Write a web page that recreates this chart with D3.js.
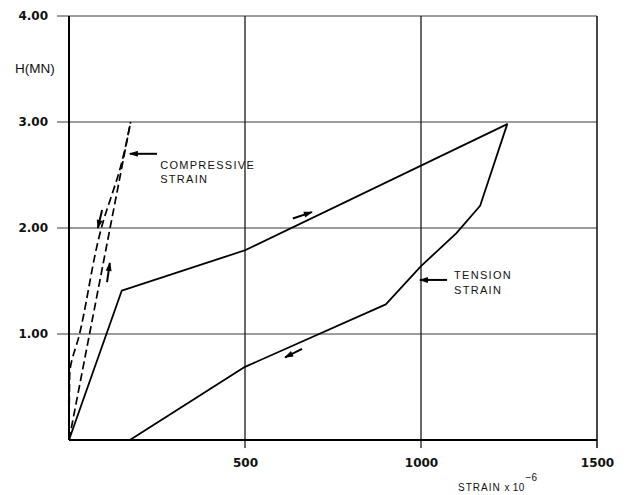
<!DOCTYPE html>
<html><head><meta charset="utf-8">
<script src="https://cdn.jsdelivr.net/npm/d3@7"></script>
<style>body{margin:0;background:#fff} svg{display:block}</style>
</head><body>
<script>
// Axis ticks
const yTicks = [1, 2, 3, 4];
const yTickLabels = ["1.00", "2.00", "3.00", "4.00"];
const xTicks = [500, 1000, 1500];
const xTickLabels = ["500", "1000", "1500"];

// Tension strain hysteresis loop (strain x 1e-6, H in MN)
const tensionStrain = [0, 150, 500, 1245, 1168, 1100, 1000, 900, 500, 173];
const tensionH      = [0, 1.41, 1.79, 2.98, 2.21, 1.95, 1.64, 1.28, 0.69, 0];

// Compressive strain, loading and unloading branches
const compLoadStrain   = [0, 175];
const compLoadH        = [0, 3.0];
const compUnloadStrain = [0, 2, 30, 92, 150, 175];
const compUnloadH      = [0, 0.62, 1.0, 2.0, 2.62, 3.0];

// Direction arrows: [strain, H] of tail and head
const arrowTails = [[250, 2.70], [94, 2.17], [108, 1.49], [636, 2.09], [662, 0.86], [1074, 1.51]];
const arrowHeads = [[173, 2.70], [82, 2.00], [116, 1.67], [690, 2.15], [614, 0.78], [997, 1.51]];

// Annotation labels
const noteText   = ["COMPRESSIVE", "STRAIN", "TENSION", "STRAIN"];
const noteStrain = [259, 259, 1094, 1094];
const noteH      = [2.557, 2.425, 1.519, 1.377];

const W = 627, H = 495;
const svg = d3.select("body").append("svg").attr("width", W).attr("height", H);

const x = d3.scaleLinear().domain([0, 1500]).range([69, 597]);
const y = d3.scaleLinear().domain([0, 4]).range([440, 16]);

const font = "'Liberation Sans', Arial, Helvetica, sans-serif";

// Horizontal grid lines (extend slightly left of the axis as ticks)
svg.append("g").selectAll("line").data(yTicks).join("line")
  .attr("x1", 57).attr("x2", x(1500))
  .attr("y1", d => y(d)).attr("y2", d => y(d))
  .attr("stroke", "#3a3a3a").attr("stroke-width", 1);

// Vertical grid lines at strain ticks, running down past the axis as ticks
svg.append("g").selectAll("line").data(xTicks).join("line")
  .attr("x1", d => x(d)).attr("x2", d => x(d))
  .attr("y1", y(4)).attr("y2", y(0) + 8)
  .attr("stroke", "#1a1a1a").attr("stroke-width", d => d === 1500 ? 1.6 : 1.3);

// Y axis labels
const yAxis = d3.axisLeft(y).tickValues(yTicks)
  .tickFormat((d, i) => yTickLabels[i]).tickSize(0).tickPadding(21);
const gy = svg.append("g").attr("transform", `translate(${x(0)},0)`).call(yAxis);
gy.select(".domain").remove();
gy.selectAll("text").attr("font-family", "'DejaVu Sans', sans-serif")
  .attr("font-weight", "bold").attr("font-size", 12).attr("fill", "#111");

// X axis labels
const xAxis = d3.axisBottom(x).tickValues(xTicks)
  .tickFormat((d, i) => xTickLabels[i]).tickSize(0).tickPadding(18);
const gx = svg.append("g").attr("transform", `translate(0,${y(0)})`).call(xAxis);
gx.select(".domain").remove();
gx.selectAll("text").attr("font-family", "'DejaVu Sans', sans-serif")
  .attr("font-weight", "bold").attr("font-size", 12).attr("fill", "#111");

// Main axis lines
svg.append("line").attr("x1", x(0)).attr("x2", x(0)).attr("y1", y(4)).attr("y2", y(0))
  .attr("stroke", "#000").attr("stroke-width", 2);
svg.append("line").attr("x1", x(0)).attr("x2", x(1500)).attr("y1", y(0)).attr("y2", y(0))
  .attr("stroke", "#000").attr("stroke-width", 2);

// Axis titles
svg.append("text").attr("x", 15).attr("y", 73)
  .attr("font-family", font).attr("font-size", 13.5).attr("fill", "#111")
  .text("H(MN)");
const xt = svg.append("text").attr("x", 458).attr("y", 491)
  .attr("font-family", font).attr("font-size", 10).attr("letter-spacing", 1).attr("fill", "#111");
xt.append("tspan").text("STRAIN ");
xt.append("tspan").attr("letter-spacing", 0.3).text("x 10");
xt.append("tspan").attr("dy", -10).attr("dx", 1).attr("letter-spacing", 0).text("−6");

const line = d3.line().x(d => x(d[0])).y(d => y(d[1]));

// Tension loop
svg.append("path").datum(d3.zip(tensionStrain, tensionH))
  .attr("d", line).attr("fill", "none").attr("stroke", "#000")
  .attr("stroke-width", 1.8).attr("stroke-linejoin", "round");

// Compressive branches
svg.append("path").datum(d3.zip(compLoadStrain, compLoadH))
  .attr("d", line).attr("fill", "none").attr("stroke", "#000")
  .attr("stroke-width", 1.7).attr("stroke-dasharray", "8,4");
svg.append("path").datum(d3.zip(compUnloadStrain, compUnloadH))
  .attr("d", d3.line().x(d => x(d[0])).y(d => y(d[1])).curve(d3.curveMonotoneY))
  .attr("fill", "none").attr("stroke", "#000")
  .attr("stroke-width", 1.7).attr("stroke-dasharray", "8,4");

// Arrowhead marker
svg.append("defs").append("marker").attr("id", "head")
  .attr("markerUnits", "userSpaceOnUse").attr("markerWidth", 10).attr("markerHeight", 8)
  .attr("viewBox", "0 -4 9 8").attr("refX", 8).attr("refY", 0).attr("orient", "auto")
  .append("path").attr("d", "M0,-3L9,0L0,3Z").attr("fill", "#000");

svg.append("g").selectAll("line").data(d3.zip(arrowTails, arrowHeads)).join("line")
  .attr("x1", d => x(d[0][0])).attr("y1", d => y(d[0][1]))
  .attr("x2", d => x(d[1][0])).attr("y2", d => y(d[1][1]))
  .attr("stroke", "#000").attr("stroke-width", 2)
  .attr("marker-end", "url(#head)");

// Annotations
svg.append("g").selectAll("text").data(noteText).join("text")
  .attr("x", (d, i) => x(noteStrain[i])).attr("y", (d, i) => y(noteH[i]))
  .attr("font-family", font).attr("font-size", 11).attr("letter-spacing", 1.3)
  .attr("fill", "#111").text(d => d);
</script>
</body></html>
